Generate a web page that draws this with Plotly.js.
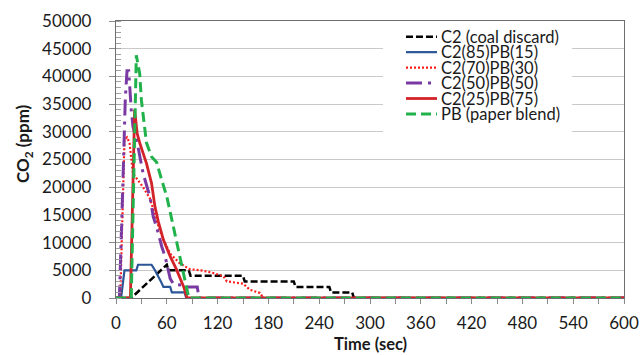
<!DOCTYPE html>
<html>
<head>
<meta charset="utf-8">
<script src="https://cdn.plot.ly/plotly-3.0.1.min.js"></script>
<style>html,body{margin:0;padding:0;background:#fff;}#chart{width:644px;height:355px;}</style>
</head>
<body>
<div id="chart"></div>
<script>
// ---- data ----
const seriesNames = ["C2 (coal discard)", "C2(85)PB(15)", "C2(70)PB(30)", "C2(50)PB(50)", "C2(25)PB(75)", "PB (paper blend)"];

const c2Time   = [0, 18, 60, 62, 86, 88, 150, 152, 210, 212, 252, 254, 279, 281, 600];
const c2Co2    = [0, 0, 6000, 5000, 5000, 4000, 4000, 3000, 3000, 2000, 2000, 1000, 1000, 0, 0];

const c85Time  = [0, 6, 10, 24, 26, 42, 46, 50, 53, 56, 64, 66, 81, 83, 600];
const c85Co2   = [0, 0, 5000, 5000, 6000, 6000, 5000, 4000, 3000, 2000, 2000, 1000, 1000, 0, 0];

const c70Time  = [0, 5, 10, 13, 16, 18, 20, 32, 40, 50, 56, 64, 75, 87, 100, 113, 127, 131, 150, 158, 170, 174, 600];
const c70Co2   = [0, 0, 28500, 29000, 28000, 24500, 22500, 20000, 18000, 13000, 10500, 8000, 6300, 5200, 5000, 4600, 3900, 3000, 2600, 1500, 900, 0, 0];

const c50Time  = [0, 4, 8, 11, 13, 15, 18, 20, 26, 32, 40, 44, 50, 54, 58, 64, 68, 80, 83, 96, 98, 600];
const c50Co2   = [0, 0, 20000, 36000, 41000, 41000, 34000, 31000, 27300, 22500, 18300, 14700, 11700, 9300, 7500, 3500, 2500, 2300, 2000, 2000, 0, 0];

const c25Time  = [0, 17, 22, 25, 28, 36, 42, 46, 50, 56, 64, 71, 80, 84, 600];
const c25Co2   = [0, 0, 34000, 29700, 28000, 24300, 20700, 16500, 13800, 10500, 7500, 5300, 2000, 0, 0];

const pbTime   = [0, 18, 24, 28, 30, 36, 42, 48, 54, 60, 66, 72, 78, 83, 86, 600];
const pbCo2    = [0, 0, 43800, 40500, 35700, 28000, 25500, 24500, 21300, 18300, 14100, 9900, 5600, 2000, 0, 0];

const xTickVals = [0, 60, 120, 180, 240, 300, 360, 420, 480, 540, 600];
const yTickVals = [0, 5000, 10000, 15000, 20000, 25000, 30000, 35000, 40000, 45000, 50000];

// ---- styles ----
const styles = [
  {color: "#000000", width: 2.5, dash: "7px,3px"},
  {color: "#2a5597", width: 2.2, dash: "solid"},
  {color: "#ff1a1a", width: 2.2, dash: "2px,2px"},
  {color: "#7a3aa3", width: 3, dash: "16px,6px,3px,6px"},
  {color: "#d2232a", width: 2.8, dash: "solid"},
  {color: "#22b24c", width: 3, dash: "10px,5px"}
];
const xs = [c2Time, c85Time, c70Time, c50Time, c25Time, pbTime];
const ys = [c2Co2, c85Co2, c70Co2, c50Co2, c25Co2, pbCo2];

const traces = seriesNames.map((n, i) => ({
  type: "scatter", mode: "lines", name: n,
  x: xs[i], y: ys[i],
  line: {color: styles[i].color, width: styles[i].width, dash: styles[i].dash},
  showlegend: false, hoverinfo: "skip"
}));

// plot area in px: left 116, right 624, top 21, bottom 298
const L = 116, R = 624, T = 21, B = 298;
const px2x = p => (p - L) / (R - L);
const py2y = p => (B - p) / (B - T);

const shapes = [];
const annotations = [];
// legend box
shapes.push({type: "rect", xref: "paper", yref: "paper", layer: "above",
  x0: px2x(383), x1: px2x(572), y0: py2y(150), y1: py2y(22.5),
  fillcolor: "#ffffff", line: {width: 0}});
seriesNames.forEach((n, i) => {
  const py = 36.7 + i * 15.45;
  shapes.push({type: "line", xref: "paper", yref: "paper", layer: "above",
    x0: px2x(406), x1: px2x(437), y0: py2y(py), y1: py2y(py),
    line: {color: styles[i].color, width: styles[i].width, dash: styles[i].dash}});
  annotations.push({xref: "paper", yref: "paper", x: px2x(440), y: py2y(py),
    xanchor: "left", yanchor: "middle", showarrow: false, text: n,
    borderpad: 0,
    font: {family: "Lato, sans-serif", size: 16.5, color: "#1a1a1a"}});
});
// axis titles
annotations.push({xref: "paper", yref: "paper", x: px2x(370), y: py2y(344),
  xanchor: "center", yanchor: "middle", showarrow: false, text: "<b>Time (sec)</b>",
  borderpad: 0,
  font: {family: "Lato, sans-serif", size: 16.5, color: "#1a1a1a"}});
annotations.push({xref: "paper", yref: "paper", x: px2x(24), y: py2y(144),
  xanchor: "center", yanchor: "middle", showarrow: false, textangle: -90,
  text: "<b>CO<sub>2</sub> (ppm)</b>",
  font: {family: "Lato, sans-serif", size: 17, color: "#1a1a1a"}});

const layout = {
  width: 644, height: 355,
  margin: {l: L, r: 644 - R, t: T, b: 355 - B, pad: 0},
  paper_bgcolor: "#ffffff", plot_bgcolor: "#ffffff",
  font: {family: "Lato, sans-serif", size: 17, color: "#1a1a1a"},
  showlegend: false,
  xaxis: {
    range: [0, 600], tickvals: xTickVals, ticktext: xTickVals.map(String),
    showgrid: false, zeroline: false,
    showline: true, linecolor: "#6e6e6e", linewidth: 1.2, mirror: true,
    ticks: "outside", ticklen: 5, tickcolor: "#8a8a8a", tickwidth: 1,
    minor: {dtick: 30, tick0: 0, ticks: "outside", ticklen: 5, tickcolor: "#8a8a8a", showgrid: false},
    ticklabelstandoff: 4,
    tickfont: {family: "Lato, sans-serif", size: 17, color: "#1a1a1a"}
  },
  yaxis: {
    range: [0, 50000], tickvals: yTickVals, ticktext: yTickVals.map(String),
    showgrid: true, gridcolor: "#c9c9c9", gridwidth: 1, zeroline: false,
    showline: true, linecolor: "#6e6e6e", linewidth: 1.2, mirror: true,
    ticks: "outside", ticklen: 6, tickcolor: "#8a8a8a", tickwidth: 1,
    minor: {dtick: 1000, tick0: 0, ticks: "inside", ticklen: 5, tickcolor: "#a0a0a0", showgrid: false},
    ticklabelstandoff: 14,
    tickfont: {family: "Lato, sans-serif", size: 17, color: "#1a1a1a"}
  },
  shapes: shapes,
  annotations: annotations
};

Plotly.newPlot("chart", traces, layout, {displayModeBar: false, staticPlot: true});
</script>
</body>
</html>
